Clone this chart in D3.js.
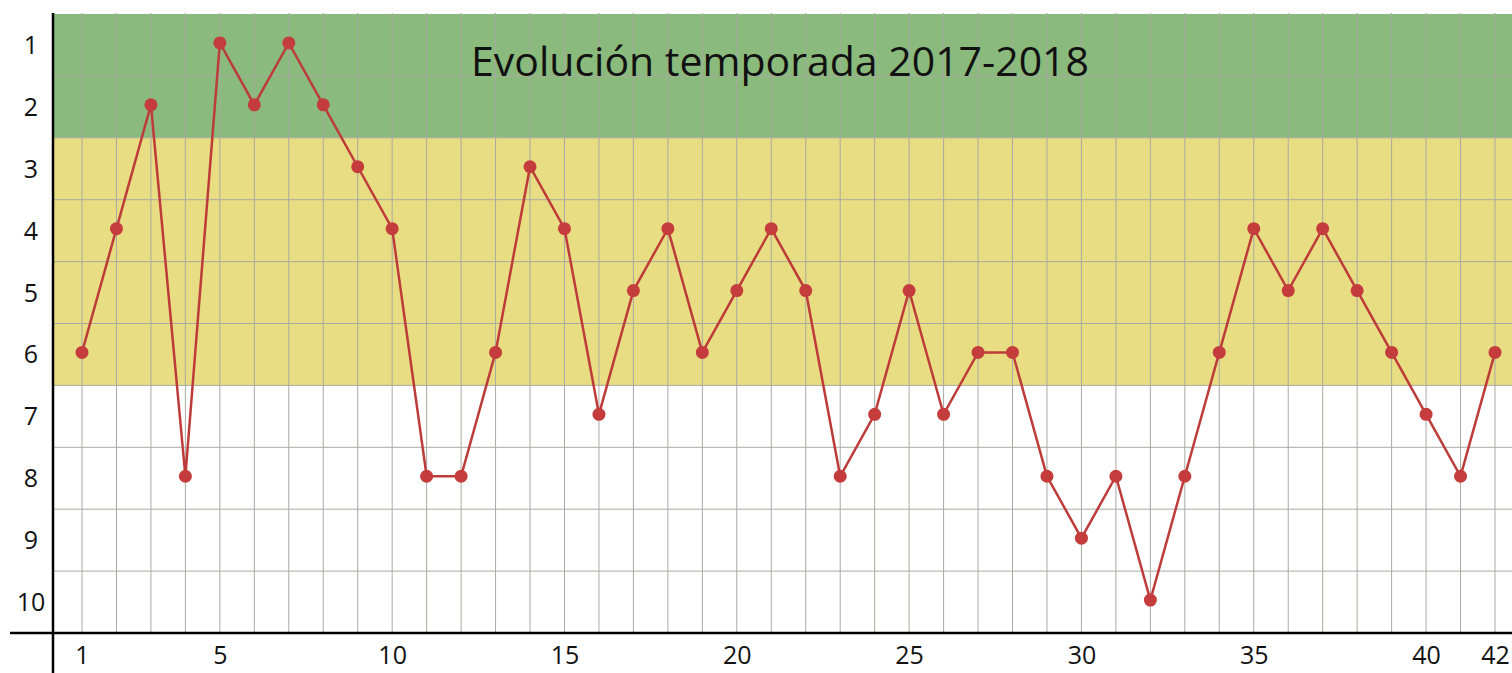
<!DOCTYPE html>
<html><head><meta charset="utf-8">
<script src="https://cdn.jsdelivr.net/npm/d3@7"></script>
<style>html,body{margin:0;padding:0;background:#fff;overflow:hidden}</style>
</head><body>
<svg id="c" width="1512" height="673"></svg>
<script>
const jornadas = d3.range(1, 43);
const posiciones = [6,4,2,8,1,2,1,2,3,4,8,8,6,3,4,7,5,4,6,5,4,5,8,7,5,7,6,6,8,9,8,10,8,6,4,5,4,5,6,7,8,6];
const xTicks = [1,5,10,15,20,25,30,35,40,42];
const yTicks = [1,2,3,4,5,6,7,8,9,10];
const bands = [{from:0.5,to:2.5,color:"#8aba7c"},{from:2.5,to:6.5,color:"#e8dd82"}];
const title = "Evolución temporada 2017-2018";

(function(){
const svg = d3.select("#c");
const font = "'Open Sans', sans-serif";
const L = 53, R = 1512, T = 13, B = 633;
const x = d3.scaleLinear().domain([1, 42]).range([82, 1495]);
const y = d3.scaleLinear().domain([0.5, 10.5]).range([T + 1, B]);

svg.selectAll("rect.band").data(bands).enter().append("rect")
  .attr("x", L).attr("width", R - L)
  .attr("y", d => y(d.from)).attr("height", d => y(d.to) - y(d.from))
  .attr("fill", d => d.color);

const g = svg.append("g");
g.selectAll("line.v").data(jornadas).enter().append("line")
  .attr("x1", d => x(d)).attr("x2", d => x(d))
  .attr("y1", T).attr("y2", B)
  .attr("stroke", "#a9a9a2").attr("stroke-width", 1);
g.selectAll("line.h").data(d3.range(1.5, 10.5, 1)).enter().append("line")
  .attr("x1", L).attr("x2", R)
  .attr("y1", d => y(d)).attr("y2", d => y(d))
  .attr("stroke", "#a9a9a2").attr("stroke-width", 1);

svg.append("text").attr("x", 780).attr("y", 76)
  .attr("text-anchor", "middle").attr("font-family", font)
  .attr("font-size", 41).attr("fill", "#111").text(title);

svg.append("line").attr("x1", 10).attr("x2", R).attr("y1", B).attr("y2", B)
  .attr("stroke", "#000").attr("stroke-width", 2.5);
svg.append("line").attr("x1", L).attr("x2", L).attr("y1", T).attr("y2", 673)
  .attr("stroke", "#000").attr("stroke-width", 2.5);

const xa = svg.append("g").attr("transform", `translate(0,${B})`)
  .call(d3.axisBottom(x).tickValues(xTicks).tickSize(0).tickPadding(0).tickFormat(d3.format("d")));
xa.select(".domain").remove();
xa.selectAll("text").attr("font-family", font).attr("font-size", 25).attr("fill", "#111")
  .attr("y", 31).attr("dy", null);

const ya = svg.append("g").attr("transform", `translate(31,0)`)
  .call(d3.axisLeft(y).tickValues(yTicks).tickSize(0).tickPadding(0).tickFormat(d3.format("d")));
ya.select(".domain").remove();
ya.selectAll("text").attr("font-family", font).attr("font-size", 25).attr("fill", "#111")
  .attr("text-anchor", "middle").attr("dy", "0.34em");

const data = jornadas.map((j, i) => ({j, p: posiciones[i]}));
svg.append("path").datum(data)
  .attr("d", d3.line().x(d => x(d.j)).y(d => y(d.p) - 2))
  .attr("fill", "none").attr("stroke", "#bd3c3a").attr("stroke-width", 2.5);
svg.selectAll("circle").data(data).enter().append("circle")
  .attr("cx", d => x(d.j)).attr("cy", d => y(d.p) - 2).attr("r", 6.5)
  .attr("fill", "#c43c3c");
})();
</script>
</body></html>
